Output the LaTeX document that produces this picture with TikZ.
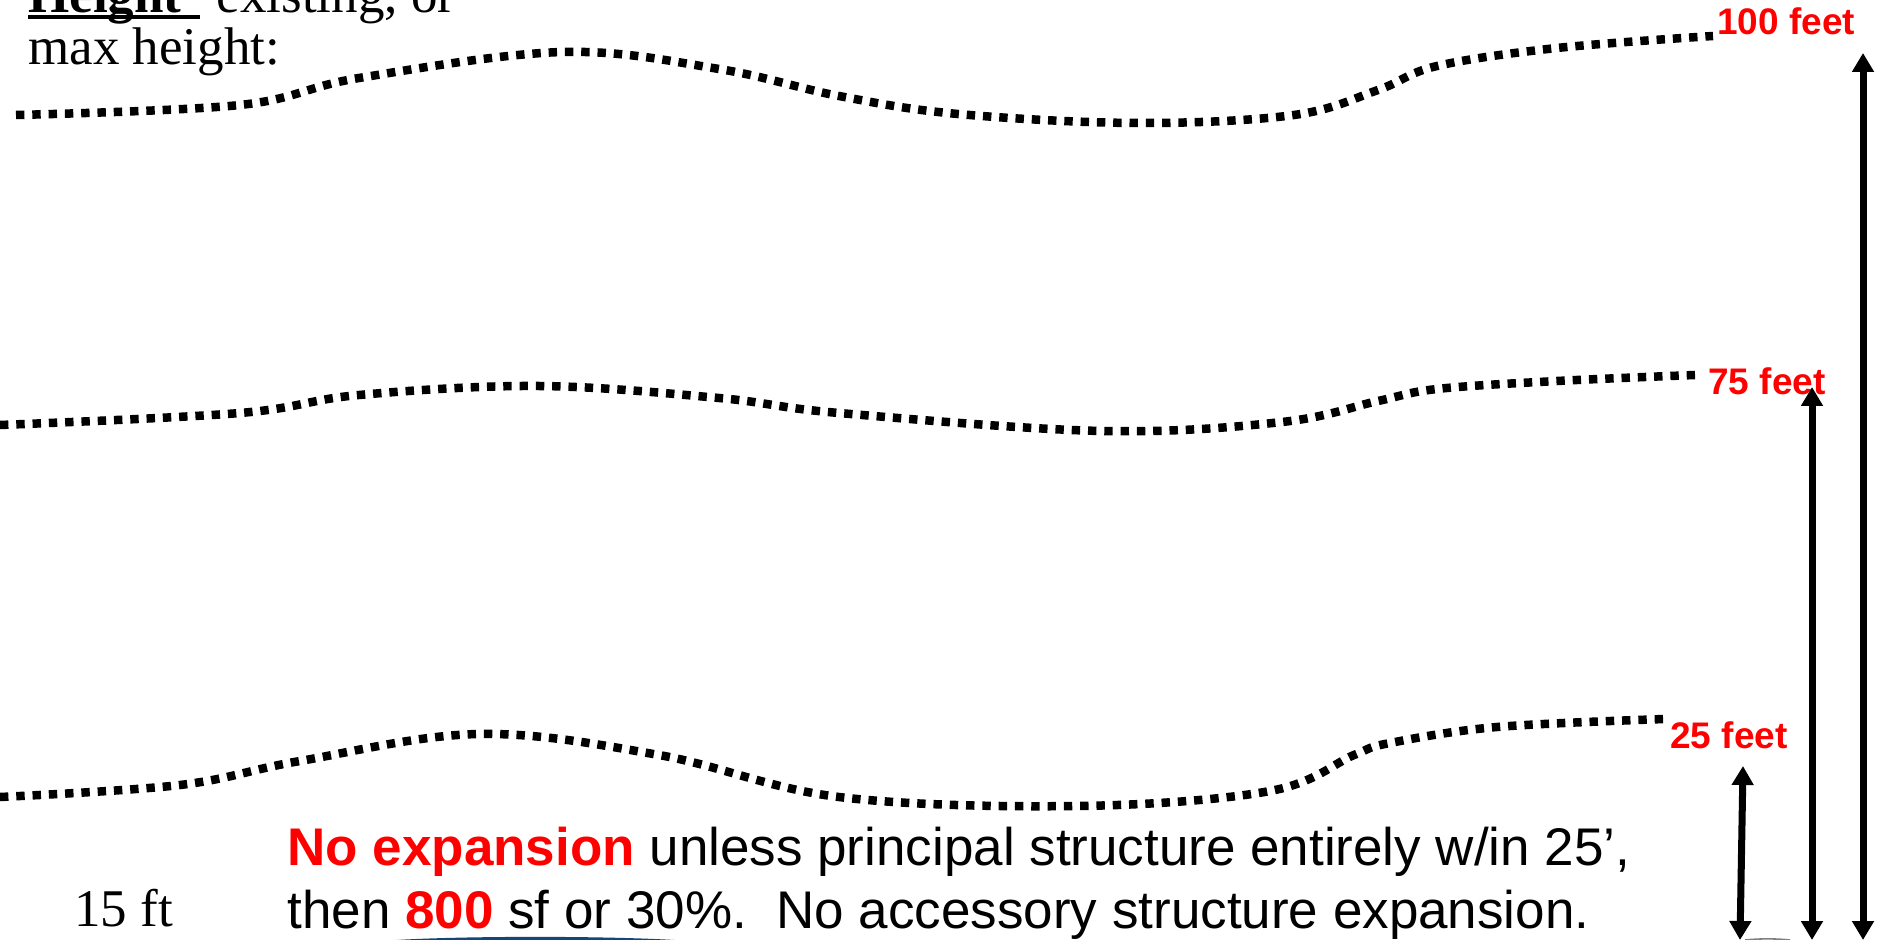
\documentclass[tikz,border=0pt]{standalone}
\usepackage{fontspec}
\setmainfont{Liberation Serif}
\newfontfamily\arialf{Liberation Sans}
\usetikzlibrary{arrows.meta}
\definecolor{labred}{RGB}{255,0,0}
\definecolor{navyarc}{RGB}{20,70,120}
\begin{document}
\begin{tikzpicture}[x=0.5pt,y=-0.5pt,
  dotline/.style={line width=4.25pt, dash pattern=on 4.2pt off 3.95pt, line cap=butt},
  dimarrow/.style={line width=3.5pt, {Triangle[width=10.5pt,length=9.5pt]}-{Triangle[width=10.5pt,length=9.5pt]}},
  lbl/.style={text=labred, font=\arialf\bfseries\fontsize{18.5}{20}\selectfont, inner sep=0, anchor=base west},
  serif/.style={font=\fontsize{26.5}{30}\selectfont, inner sep=0, anchor=base west},
  sans/.style={font=\arialf\fontsize{26.5}{30}\selectfont, inner sep=0, anchor=base west}
]
\useasboundingbox (0,0) rectangle (1878,940);

% header text
\node[serif] (h1) at (28,13) {\textbf{Height}\ \ \,existing, or};
\coordinate (ulA) at (28,17);
\coordinate (ulB) at (200,17);
\draw[line width=1.6pt] (ulA) -- (ulB);
\node[serif] (h2) at (28,65) {max height:};

% dotted height lines
\draw[dotline] plot[smooth, tension=0.6] coordinates {(16,115) (240,105) (359,78) (563,52) (719,69) (839,96) (958,114) (1138,123) (1294,115) (1378,90) (1437,66) (1557,48) (1713,36)};
\draw[dotline] plot[smooth, tension=0.6] coordinates {(0,425) (240,413) (359,395) (539,386) (719,398) (839,413) (1102,431) (1282,422) (1378,401) (1437,389) (1557,381) (1695,375)};
\draw[dotline] plot[smooth, tension=0.6] coordinates {(0,797) (180,785) (300,761) (479,734) (659,755) (839,797) (1078,806) (1270,791) (1354,755) (1390,743) (1497,727) (1665,719)};

% labels
\node[lbl] (l100) at (1717,35) {100 feet};
\node[lbl] (l75) at (1708,395) {75 feet};
\node[lbl] (l25) at (1670,748) {25 feet};

% dimension arrows
\coordinate (a1t) at (1863,53);
\coordinate (a1b) at (1863,940);
\coordinate (a2t) at (1812,387);
\coordinate (a2b) at (1812,940);
\coordinate (a3t) at (1743,766);
\coordinate (a3b) at (1740,940);
\draw[dimarrow] (a1t) -- (a1b);
\draw[dimarrow] (a2t) -- (a2b);
\draw[dimarrow] (a3t) -- (a3b);

% bottom texts
\node[serif] (ft) at (74,926) {15 ft};
\node[sans] (t1) at (287,865) {\textcolor{labred}{\textbf{No expansion}} unless principal structure entirely w/in 25’,};
\node[sans] (t2) at (287,928) {then \textcolor{labred}{\textbf{800}} sf or 30\%.\ \ No accessory structure expansion.};

% partial shapes at bottom edge
\fill[navyarc] (382,941) .. controls (450,935.5) and (620,935.5) .. (689,941) -- cycle;
\draw[gray, line width=0.8pt] (1745,940) .. controls (1760,938.5) and (1775,938.5) .. (1790,940);
\end{tikzpicture}
\end{document}
